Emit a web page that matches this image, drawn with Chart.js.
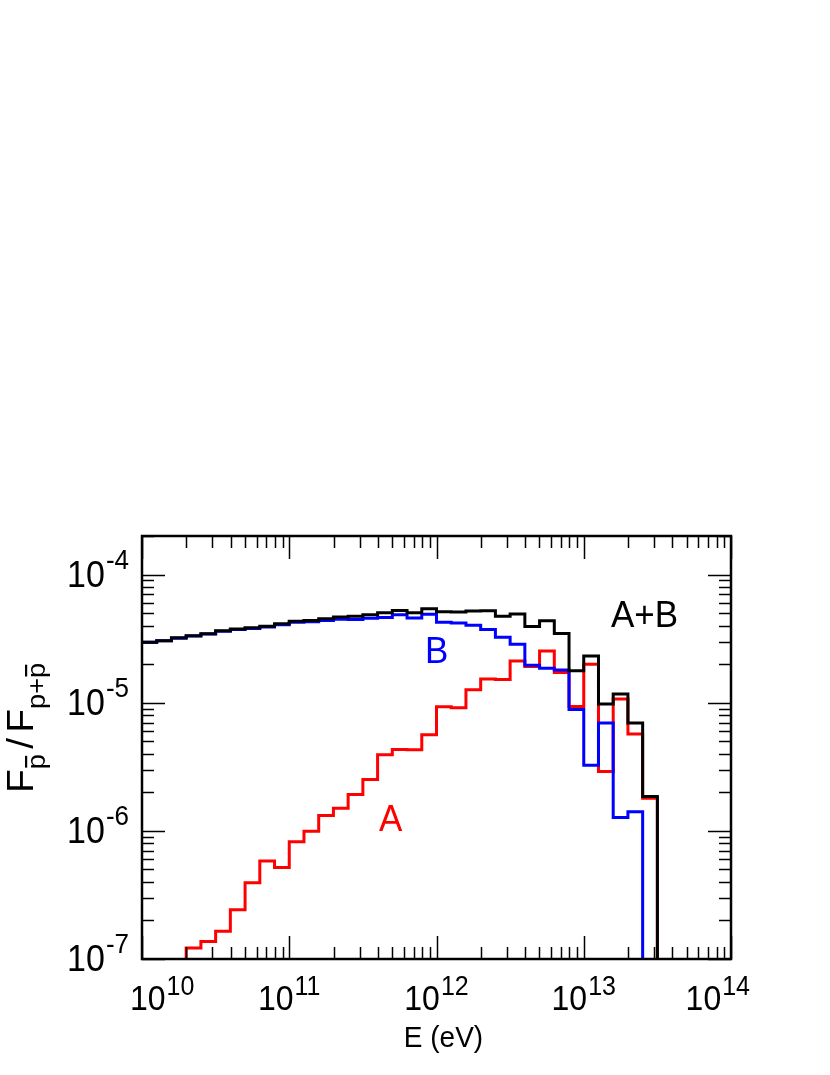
<!DOCTYPE html>
<html>
<head>
<meta charset="utf-8">
<script src="https://cdn.jsdelivr.net/npm/chart.js@4.4.1/dist/chart.umd.min.js"></script>
<style>
  html, body { margin: 0; padding: 0; background: #fff; }
  #wrap { width: 830px; height: 1075px; }
</style>
</head>
<body>
<div id="wrap"><canvas id="ratioChart" width="830" height="1075"></canvas></div>
<script>
// log10(E / eV) of the bin edges (0.1 decade bins)
const logEdges = [
  10.0, 10.1, 10.2, 10.3, 10.4, 10.5, 10.6, 10.7, 10.8, 10.9,
  11.0, 11.1, 11.2, 11.3, 11.4, 11.5, 11.6, 11.7, 11.8, 11.9,
  12.0, 12.1, 12.2, 12.3, 12.4, 12.5, 12.6, 12.7, 12.8, 12.9,
  13.0, 13.1, 13.2, 13.3, 13.4, 13.5, 13.6, 13.7, 13.8, 13.9,
  14.0
];

// F_pbar / F_(p+pbar) per bin, 0 = empty bin
const ratioAB = [
  2.97e-5, 3.05e-5, 3.21e-5, 3.33e-5, 3.45e-5, 3.64e-5, 3.76e-5, 3.85e-5, 3.96e-5, 4.13e-5,
  4.33e-5, 4.39e-5, 4.52e-5, 4.66e-5, 4.72e-5, 4.86e-5, 5.03e-5, 5.25e-5, 5.03e-5, 5.41e-5,
  5.12e-5, 5.10e-5, 5.19e-5, 5.21e-5, 4.72e-5, 4.92e-5, 3.94e-5, 4.36e-5, 3.47e-5, 1.78e-5,
  2.31e-5, 9.77e-6, 1.17e-5, 6.95e-6, 1.85e-6, 0, 0, 0, 0, 0
];
const ratioB = [
  2.96e-5, 3.04e-5, 3.19e-5, 3.31e-5, 3.43e-5, 3.61e-5, 3.72e-5, 3.80e-5, 3.89e-5, 4.06e-5,
  4.24e-5, 4.28e-5, 4.39e-5, 4.48e-5, 4.47e-5, 4.56e-5, 4.62e-5, 4.85e-5, 4.58e-5, 4.90e-5,
  4.24e-5, 4.19e-5, 4.02e-5, 3.72e-5, 3.24e-5, 2.86e-5, 1.96e-5, 1.86e-5, 1.80e-5, 8.85e-6,
  3.25e-6, 6.95e-6, 1.27e-6, 1.41e-6, 0, 0, 0, 0, 0, 0
];
const ratioA = [
  0, 0, 0, 1.22e-7, 1.37e-7, 1.65e-7, 2.42e-7, 3.93e-7, 5.82e-7, 5.17e-7,
  8.22e-7, 9.95e-7, 1.32e-6, 1.50e-6, 1.92e-6, 2.52e-6, 3.93e-6, 4.32e-6, 4.29e-6, 5.63e-6,
  9.30e-6, 9.15e-6, 1.26e-5, 1.53e-5, 1.52e-5, 2.12e-5, 1.92e-5, 2.53e-5, 1.72e-5, 9.36e-6,
  2.00e-5, 2.90e-6, 1.07e-5, 5.71e-6, 1.80e-6, 0, 0, 0, 0, 0
];

// axis ranges and labelled decades
const xRange = [1e10, 1e14];
const yRange = [1e-7, 2e-4];
const xTickExps = [10, 11, 12, 13, 14];
const yTickExps = [-7, -6, -5, -4];

// curve labels, anchored in data coordinates (left edge, baseline)
const curveLabels = [
  { text: 'A+B', x: 1.53e13, y: 3.9e-5, color: '#000000' },
  { text: 'B', x: 8.36e11, y: 2.05e-5, color: '#0000ff' },
  { text: 'A', x: 4.07e11, y: 1.0e-6, color: '#ff0000' }
];

const FONT = '"Liberation Sans", Arial, Helvetica, sans-serif';
const SY = 1.08; // glyphs in the original are a bit taller than wide

// empty bins sit below the axis so the step drops to the frame
function histPoints(values) {
  const floor = yRange[0] / 10;
  const pts = values.map((v, i) => ({ x: Math.pow(10, logEdges[i]), y: v > 0 ? v : floor }));
  pts.push({ x: Math.pow(10, logEdges[values.length]), y: pts[pts.length - 1].y });
  return pts;
}

// text pieces: {t, size, rise, gap, pad}
function measureRuns(ctx, runs) {
  return runs.map(r => {
    ctx.font = r.size + 'px ' + FONT;
    return (r.pad || 0) + ctx.measureText(r.t).width + (r.gap || 0);
  });
}

function drawRunsH(ctx, runs, x, y, align) {
  const ws = measureRuns(ctx, runs);
  const total = ws.reduce((a, b) => a + b, 0);
  let cx = align === 'right' ? x - total : align === 'center' ? x - total / 2 : x;
  runs.forEach((r, i) => {
    ctx.save();
    ctx.translate(cx + (r.pad || 0), y - (r.rise || 0));
    ctx.scale(1, SY);
    ctx.font = r.size + 'px ' + FONT;
    ctx.fillText(r.t, 0, 0);
    ctx.restore();
    cx += ws[i];
  });
  return total;
}

const axisDecor = {
  id: 'axisDecor',
  afterDraw(chart) {
    const { ctx, chartArea: a, scales } = chart;
    const xs = scales.x, ys = scales.y;
    ctx.save();
    ctx.fillStyle = '#000';
    ctx.strokeStyle = '#000';

    // ticks on all four sides, pointing inwards
    ctx.lineWidth = 1.5;
    ctx.beginPath();
    for (let e = 10; e <= 14; e++) {
      for (let m = 1; m <= 9; m++) {
        const v = m * Math.pow(10, e);
        if (v < xRange[0] || v > xRange[1] * 1.0001) continue;
        const px = Math.round(xs.getPixelForValue(v)) + 0.5;
        const len = m === 1 ? 23 : 12;
        ctx.moveTo(px, a.bottom); ctx.lineTo(px, a.bottom - len);
        ctx.moveTo(px, a.top); ctx.lineTo(px, a.top + len);
      }
    }
    for (let e = -7; e <= -4; e++) {
      for (let m = 1; m <= 9; m++) {
        const v = m * Math.pow(10, e);
        if (v < yRange[0] || v > yRange[1] * 1.0001) continue;
        const py = Math.round(ys.getPixelForValue(v)) + 0.5;
        const len = m === 1 ? 23 : 12;
        ctx.moveTo(a.left, py); ctx.lineTo(a.left + len, py);
        ctx.moveTo(a.right, py); ctx.lineTo(a.right - len, py);
      }
    }
    ctx.stroke();

    // frame
    ctx.lineWidth = 2.5;
    ctx.strokeRect(a.left, a.top, a.right - a.left, a.bottom - a.top);

    // x tick labels 10^n
    ctx.textBaseline = 'alphabetic';
    xTickExps.forEach(e => {
      const runs = [{ t: '10', size: 32 }, { t: String(e), size: 25, rise: 15, pad: 1 }];
      const w = measureRuns(ctx, runs).reduce((p, q) => p + q, 0);
      let left = xs.getPixelForValue(Math.pow(10, e)) - w / 2;
      left = Math.max(130, Math.min(750 - w, left));
      drawRunsH(ctx, runs, left, a.bottom + 51, 'left');
    });

    // y tick labels 10^-n
    yTickExps.forEach(e => {
      const py = ys.getPixelForValue(Math.pow(10, e));
      const runs = [{ t: '10', size: 34 }, { t: String(e), size: 26, rise: 18, pad: 1 }];
      drawRunsH(ctx, runs, a.left - 13, py + 12, 'right');
    });

    // x title
    drawRunsH(ctx, [{ t: 'E (eV)', size: 28 }], (a.left + a.right) / 2 + 7, a.bottom + 88, 'center');

    // y title: F_{pbar} / F_{p+pbar}, rotated
    const title = [
      { t: 'F', size: 36 },
      { t: 'p', size: 25, rise: -12, bar: true },
      { t: '/', size: 36, pad: 5, gap: 5 },
      { t: 'F', size: 36 },
      { t: 'p+', size: 25, rise: -12 },
      { t: 'p', size: 25, rise: -12, bar: true }
    ];
    ctx.save();
    ctx.translate(33, 793);
    ctx.rotate(-Math.PI / 2);
    ctx.scale(SY, 1);
    let cx = 0;
    title.forEach(r => {
      cx += r.pad || 0;
      ctx.font = r.size + 'px ' + FONT;
      const w = ctx.measureText(r.t).width;
      ctx.fillText(r.t, cx, -(r.rise || 0));
      if (r.bar) {
        ctx.fillRect(cx + 1.5, -8, w - 3, 2.2);
      }
      cx += w + (r.gap || 0);
    });
    ctx.restore();

    // curve labels
    curveLabels.forEach(l => {
      ctx.fillStyle = l.color;
      drawRunsH(ctx, [{ t: l.text, size: 35 }], xs.getPixelForValue(l.x), ys.getPixelForValue(l.y), 'left');
    });

    ctx.restore();
  }
};

const histStyle = { borderWidth: 3, stepped: 'before', fill: false, pointRadius: 0, tension: 0 };

const ctx = document.getElementById('ratioChart').getContext('2d');
const chart = new Chart(ctx, {
  type: 'line',
  data: {
    datasets: [
      Object.assign({ label: 'A+B', data: histPoints(ratioAB), borderColor: '#000000' }, histStyle),
      Object.assign({ label: 'B', data: histPoints(ratioB), borderColor: '#0000ff' }, histStyle),
      Object.assign({ label: 'A', data: histPoints(ratioA), borderColor: '#ff0000' }, histStyle)
    ]
  },
  options: {
    responsive: false,
    animation: false,
    devicePixelRatio: 1,
    layout: { padding: { left: 142, right: 99, top: 536, bottom: 116 } },
    plugins: { legend: { display: false }, tooltip: { enabled: false } },
    scales: {
      x: { type: 'logarithmic', min: xRange[0], max: xRange[1], display: false },
      y: { type: 'logarithmic', min: yRange[0], max: yRange[1], display: false }
    }
  },
  plugins: [axisDecor]
});
</script>
</body>
</html>
